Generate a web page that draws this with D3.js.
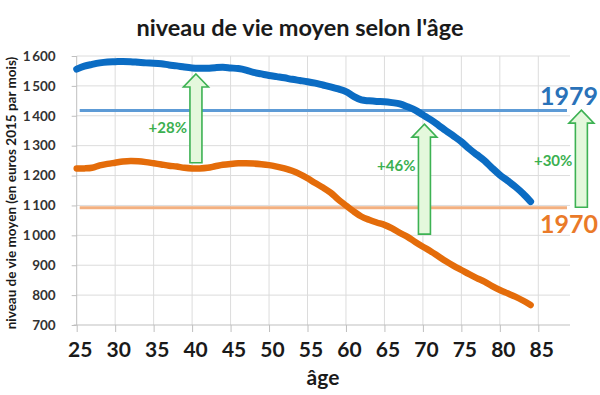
<!DOCTYPE html>
<html><head><meta charset="utf-8">
<script src="https://cdn.jsdelivr.net/npm/d3@7"></script>
<style>
body{margin:0;background:#fff;}
svg{display:block;font-family:Lato,"Open Sans",sans-serif;}
</style></head>
<body><svg id="c" width="600" height="395"></svg>
<script>
const ages = d3.range(25, 85);
const niveau1979 = [1556,1566,1572,1577,1580,1581,1582,1581,1579,1577,
  1576,1574,1570,1567,1563,1560,1559,1559,1561,1562,
  1560,1558,1553,1545,1540,1535,1531,1527,1522,1518,
  1514,1509,1503,1497,1490,1481,1465,1453,1450,1448,
  1447,1444,1440,1430,1419,1403,1387,1369,1350,1332,
  1313,1290,1270,1250,1225,1202,1183,1163,1140,1113];
const niveau1970 = [1224,1224,1226,1234,1239,1243,1247,1249,1248,1245,
  1241,1237,1233,1230,1226,1224,1224,1226,1231,1236,
  1239,1241,1241,1240,1238,1235,1230,1224,1216,1205,
  1191,1175,1160,1143,1120,1100,1080,1063,1052,1043,
  1035,1023,1008,995,978,962,947,930,913,898,
  884,870,857,845,830,817,806,795,782,767];
const refYears = ["1979","1970"];
const refValues = [1418, 1092];
const xTicks = [25,30,35,40,45,50,55,60,65,70,75,80,85];
const yTicks = [700,800,900,1000,1100,1200,1300,1400,1500,1600];
const arrowAges = [40.5, 70.2, 90.6];
const arrowFrom = [1243, 1004, 1094];
const arrowTo = [1540, 1372, 1419];
const arrowLabels = ["+28%", "+46%", "+30%"];
const arrowLabelValues = [1342, 1215, 1232];

const svg = d3.select("#c");
const x = d3.scaleLinear().domain([25, 85]).range([76.7, 538.3]);
const y = d3.scaleLinear().domain([700, 1600]).range([325, 56]);
const xEnd = 570;

// title
svg.append("text").attr("x", 300).attr("y", 36).attr("text-anchor", "middle")
  .attr("font-size", 23.5).attr("font-weight", "bold").attr("fill", "#1a1a1a")
  .text("niveau de vie moyen selon l'âge");

// gridlines
const grid = svg.append("g");
grid.selectAll(".hg").data(yTicks.slice(1)).join("line")
  .attr("x1", x(25)).attr("x2", xEnd).attr("y1", d => y(d)).attr("y2", d => y(d))
  .attr("stroke", "#dcdcdc").attr("stroke-width", 1);
grid.selectAll(".vg").data(xTicks.slice(1)).join("line")
  .attr("x1", d => x(d)).attr("x2", d => x(d)).attr("y1", y(700)).attr("y2", y(1600))
  .attr("stroke", "#dcdcdc").attr("stroke-width", 1);

// axes
const fr = d3.formatLocale({decimal: ",", thousands: "\u2009", grouping: [3], currency: ["", " €"]});
const fmt = fr.format(",d");
const yAxis = svg.append("g").attr("transform", `translate(${x(25)},0)`)
  .call(d3.axisLeft(y).tickValues(yTicks).tickSize(5).tickPadding(16).tickFormat(fmt));
yAxis.select(".domain").attr("stroke", "#bfbfbf").attr("d", `M0,${y(1600)}V${y(700)}`);
yAxis.selectAll(".tick line").attr("stroke", "#bfbfbf");
yAxis.selectAll(".tick text").attr("font-size", 13.5).attr("font-weight", "bold")
  .attr("fill", "#333").attr("font-family", "Lato, sans-serif");

const xAxis = svg.append("g").attr("transform", `translate(0,${y(700)})`)
  .call(d3.axisBottom(x).tickValues(xTicks).tickSize(7).tickPadding(10).tickFormat(d3.format("d")));
xAxis.select(".domain").attr("stroke", "#bfbfbf").attr("d", `M${x(25) - 3},0H${xEnd}`);
xAxis.selectAll(".tick line").attr("stroke", "#bfbfbf");
xAxis.selectAll(".tick text").attr("font-size", 21).attr("font-weight", "bold")
  .attr("fill", "#1a1a1a").attr("font-family", "Lato, sans-serif").attr("dx", 3);

svg.append("text").attr("x", 323).attr("y", 385).attr("text-anchor", "middle")
  .attr("font-size", 21).attr("font-weight", "bold").attr("fill", "#1a1a1a").text("âge");

svg.append("text").attr("transform", "translate(16,193) rotate(-90)")
  .attr("text-anchor", "middle").attr("font-size", 13.5).attr("font-weight", "bold")
  .attr("fill", "#1a1a1a").text("niveau de vie moyen (en euros 2015 par mois)");

// reference lines
const refColors = ["#5d9bd6", "#f3b080"];
const labelColors = ["#2a72b8", "#ea7a28"];
svg.selectAll(".ref").data(refValues).join("line")
  .attr("x1", x(25) + 3).attr("x2", xEnd - 3).attr("y1", d => y(d)).attr("y2", d => y(d))
  .attr("stroke", (d, i) => refColors[i]).attr("stroke-width", 3);

// data lines
const line = d3.line().x((d, i) => x(ages[i])).y(d => y(d)).curve(d3.curveCatmullRom);
svg.append("path").datum(niveau1970).attr("d", line).attr("fill", "none")
  .attr("stroke", "#e46c0a").attr("stroke-width", 6.5).attr("stroke-linecap", "round").attr("stroke-linejoin", "round");
svg.append("path").datum(niveau1979).attr("d", line).attr("fill", "none")
  .attr("stroke", "#0b6cc3").attr("stroke-width", 7).attr("stroke-linecap", "round").attr("stroke-linejoin", "round");

// year labels
svg.append("text").attr("x", 598).attr("y", y(refValues[0]) - 5).attr("text-anchor", "end")
  .attr("font-size", 25).attr("font-weight", "bold").attr("fill", labelColors[0]).text(refYears[0]);
svg.append("text").attr("x", 598).attr("y", y(refValues[1]) + 25).attr("text-anchor", "end")
  .attr("font-size", 25).attr("font-weight", "bold").attr("fill", labelColors[1]).text(refYears[1]);

// arrows
const headW = 25, headH = 13, shaftW = 12;
function arrowPath(cx, yt, yb) {
  return `M${cx},${yt}L${cx + headW / 2},${yt + headH}L${cx + shaftW / 2},${yt + headH}` +
    `L${cx + shaftW / 2},${yb}L${cx - shaftW / 2},${yb}L${cx - shaftW / 2},${yt + headH}` +
    `L${cx - headW / 2},${yt + headH}Z`;
}
arrowAges.forEach((a, i) => {
  svg.append("path").attr("d", arrowPath(x(a), y(arrowTo[i]), y(arrowFrom[i])))
    .attr("fill", "#e4f8dc").attr("stroke", "#3db253").attr("stroke-width", 1.6)
    .attr("stroke-linejoin", "miter");
  svg.append("text").attr("x", x(a) - 9).attr("y", y(arrowLabelValues[i]))
    .attr("text-anchor", "end").attr("font-size", 15).attr("font-weight", "bold")
    .attr("fill", "#3bb050").text(arrowLabels[i]);
});
</script></body></html>
